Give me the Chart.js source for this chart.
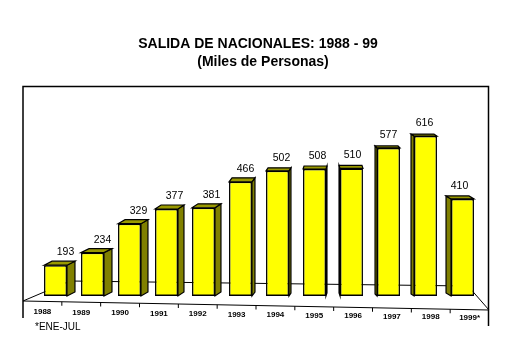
<!DOCTYPE html>
<html><head><meta charset="utf-8">
<script src="https://cdn.jsdelivr.net/npm/chart.js@4/dist/chart.umd.min.js"></script>
<style>html,body{margin:0;padding:0;background:#fff}#c{display:block}</style>
</head><body>
<canvas id="c" width="506" height="345"></canvas>
<script>
const categories = ['1988','1989','1990','1991','1992','1993','1994','1995','1996','1997','1998','1999*'];
const values = [193,234,329,377,381,466,502,508,510,577,616,410];
const titleLines = ['SALIDA DE NACIONALES: 1988 - 99','(Miles de Personas)'];
const footnote = '*ENE-JUL';
const depthX = [8,8,7,6,6,3,2,1,-1,-2,-3,-5];
const depthY = [-4,-4,-4,-4,-4,-4,-3,-3,-3,-2,-2,-3];

const F = '"Liberation Sans", Arial, sans-serif';

const frame3d = {
  id:'frame3d',
  beforeDatasetsDraw(chart){
    const ctx = chart.ctx;
    const bottom = chart.chartArea.bottom;
    ctx.save();
    ctx.strokeStyle='#000'; ctx.lineWidth=1;
    ctx.beginPath();
    ctx.moveTo(23,301); ctx.lineTo(70,281); ctx.lineTo(468,286); ctx.lineTo(489,310);
    ctx.stroke();
    const meta = chart.getDatasetMeta(0);
    meta.data.forEach((b,i)=>{
      const w=b.width, x=b.x, y=b.y, base=Math.min(b.base,bottom);
      const dx=depthX[i], dy=depthY[i];
      const edge = dx>=0 ? x+w/2 : x-w/2;
      ctx.fillStyle='#808000';
      ctx.beginPath();
      ctx.moveTo(edge,y); ctx.lineTo(edge+dx,y+dy); ctx.lineTo(edge+dx,base+dy); ctx.lineTo(edge,base); ctx.closePath();
      ctx.fill(); ctx.lineWidth=1.2; ctx.stroke();
      ctx.fillStyle='#999900';
      ctx.beginPath();
      ctx.moveTo(x-w/2,y); ctx.lineTo(x-w/2+dx,y+dy); ctx.lineTo(x+w/2+dx,y+dy); ctx.lineTo(x+w/2,y); ctx.closePath();
      ctx.fill(); ctx.stroke();
    });
    ctx.restore();
  },
  afterDatasetsDraw(chart){
    const ctx = chart.ctx;
    const bottom = chart.chartArea.bottom;
    ctx.save();
    ctx.strokeStyle='#000';
    const meta = chart.getDatasetMeta(0);
    ctx.lineWidth=1.5;
    meta.data.forEach((b)=>{
      ctx.beginPath(); ctx.moveTo(b.x-b.width/2,bottom-0.75); ctx.lineTo(b.x+b.width/2,bottom-0.75); ctx.stroke();
    });
    ctx.beginPath();
    ctx.moveTo(23,318); ctx.lineTo(23,86.5); ctx.lineTo(488.5,86.5); ctx.lineTo(488.5,326);
    ctx.stroke();
    ctx.lineWidth=1;
    ctx.beginPath(); ctx.moveTo(23,301); ctx.lineTo(489,310); ctx.stroke();
    const n = categories.length, step=(489-23)/n;
    for(let k=1;k<n;k++){
      const tx=23+k*step, ty=301+9*(tx-23)/466;
      ctx.beginPath(); ctx.moveTo(tx,ty); ctx.lineTo(tx,ty+4); ctx.stroke();
    }
    ctx.fillStyle='#000';
    ctx.font='bold 8px '+F; ctx.textAlign='center'; ctx.textBaseline='middle';
    categories.forEach((c,k)=>{
      const cx=23+(k+0.5)*step;
      ctx.fillText(c,cx,312+6*(cx-23)/466);
    });
    ctx.font='10.5px '+F;
    meta.data.forEach((b,i)=>{
      ctx.fillText(String(values[i]), b.x+depthX[i]+2, b.y-13);
    });
    ctx.font='bold 14px '+F;
    ctx.fillText(titleLines[0],258,44);
    ctx.fillText(titleLines[1],263,62);
    ctx.font='10px '+F; ctx.textAlign='left';
    ctx.fillText(footnote,35,327);
    ctx.restore();
  }
};

new Chart(document.getElementById('c'),{
  type:'bar',
  data:{labels:categories,datasets:[{data:values,backgroundColor:'#ffff00',borderColor:'#000',borderWidth:1.5,borderSkipped:false,barPercentage:0.62,categoryPercentage:1}]},
  options:{
    responsive:false,animation:false,
    layout:{padding:{left:37,right:25,top:86,bottom:49}},
    plugins:{legend:{display:false},title:{display:false},tooltip:{enabled:false}},
    scales:{
      x:{display:false},
      y:{display:false,min:92,max:780}
    }
  },
  plugins:[frame3d]
});
</script>
</body></html>
